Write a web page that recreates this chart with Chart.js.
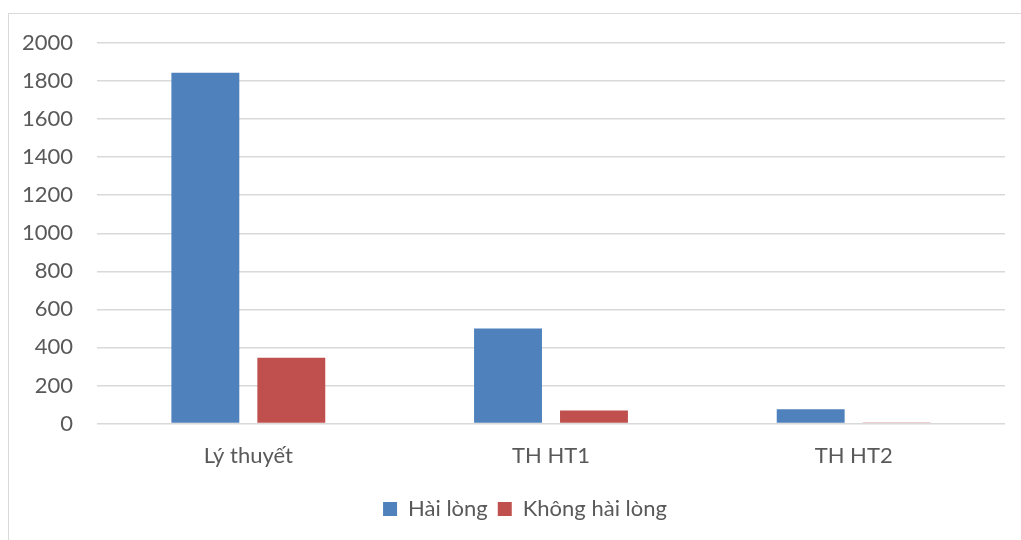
<!DOCTYPE html>
<html>
<head>
<meta charset="utf-8">
<script src="https://cdn.jsdelivr.net/npm/chart.js@4/dist/chart.umd.min.js"></script>
<style>
  html, body { margin: 0; padding: 0; background: #fff; overflow: hidden; }
  #frame { position: absolute; left: 8px; top: 13px; width: 1100px; height: 600px; border: 1px solid #d9d9d9; }
  #wrap { position: absolute; left: 0; top: 0; width: 1021px; height: 540px; }
</style>
</head>
<body>
<div id="frame"></div>
<div id="wrap"><canvas id="satChart" width="1021" height="540"></canvas></div>
<script>
// chart data
const categories = ['Lý thuyết', 'TH HT1', 'TH HT2'];
const hailong = [1844, 499, 75];
const khongHailong = [345, 68, 2];
const yTicks = [0, 200, 400, 600, 800, 1000, 1200, 1400, 1600, 1800, 2000];

const textColor = '#595959';
const font = { family: 'Lato, "Open Sans", sans-serif', size: 22 };

// the original legend is centred on the whole frame, not on the plot
const shiftLegend = {
  id: 'shiftLegend',
  afterLayout(chart) {
    if (chart.legend) chart.legend.left = 45;
  }
};

document.addEventListener("DOMContentLoaded", function () {
  const ctx = document.getElementById('satChart').getContext('2d');
  new Chart(ctx, {
    type: 'bar',
    data: {
      labels: categories,
      datasets: [{
        label: 'Hài lòng',
        data: hailong,
        backgroundColor: '#4f81bd',
        borderWidth: 0
      }, {
        label: 'Không hài lòng',
        data: khongHailong,
        backgroundColor: '#c0504d',
        borderWidth: 0
      }]
    },
    plugins: [shiftLegend],
    options: {
      responsive: false,
      animation: false,
      layout: { padding: { left: 10, right: 16, top: 43, bottom: 10 } },
      datasets: {
        bar: { categoryPercentage: 0.568, barPercentage: 0.79 }
      },
      scales: {
        x: {
          grid: { display: false, drawTicks: false },
          border: { display: false },
          ticks: { color: textColor, font: font, padding: 19 },
          afterFit: function (scale) { scale.height = 64.5; }
        },
        y: {
          min: 0,
          max: 2000,
          afterBuildTicks: function (scale) {
            scale.ticks = yTicks.map(v => ({ value: v }));
          },
          grid: { color: '#d9d9d9', lineWidth: 1.5, drawTicks: false },
          border: { display: false },
          ticks: {
            color: textColor,
            font: font,
            padding: 24,
            callback: function (value) { return String(value); }
          },
          afterFit: function (scale) { scale.width = 87; }
        }
      },
      plugins: {
        legend: {
          position: 'bottom',
          labels: {
            color: textColor,
            font: font,
            boxWidth: 14,
            boxHeight: 14,
            padding: 10
          }
        },
        tooltip: { enabled: false }
      }
    }
  });
});
</script>
</body>
</html>
